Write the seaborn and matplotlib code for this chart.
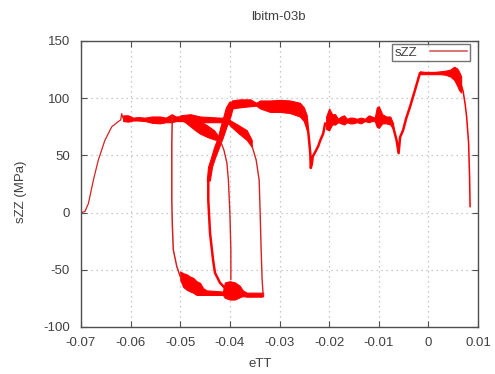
import numpy as np
import pandas as pd
import seaborn as sns
import matplotlib
matplotlib.use("Agg")
import matplotlib.pyplot as plt

# ---- axis ticks ----
x_ticks = [-0.07, -0.06, -0.05, -0.04, -0.03, -0.02, -0.01, 0.0, 0.01]
x_tick_labels = ["-0.07", "-0.06", "-0.05", "-0.04", "-0.03", "-0.02", "-0.01", "0", "0.01"]
y_ticks = [-100, -50, 0, 50, 100, 150]
y_tick_labels = ["-100", "-50", "0", "50", "100", "150"]

# ---- thin path segments (eTT, sZZ) ----
load_e = [-0.0699, -0.0692, -0.0685, -0.0675, -0.0665, -0.0652, -0.0638, -0.0625, -0.0620, -0.0618, -0.0615]
load_s = [0, 1, 8, 28.5, 46, 63, 75, 79.5, 81, 86.5, 82]

drop1_e = [-0.0516, -0.0517, -0.0517, -0.0516, -0.0514, -0.0507, -0.0500]
drop1_s = [84, 60, 11, -10, -32.5, -47, -56]

drop2_e = [-0.04435, -0.04435, -0.0440, -0.0434, -0.0430, -0.0420, -0.04065]
drop2_s = [30, 11, -17.7, -41, -52.6, -61.3, -67.5]

drop3_e = [-0.0420, -0.0412, -0.0406, -0.0403, -0.0400, -0.0398, -0.0398]
drop3_s = [63.5, 54.7, 43.4, 28.5, 0, -32.5, -58.7]

drop4_e = [-0.0356, -0.0347, -0.0341, -0.0339, -0.0337, -0.0335, -0.0333]
drop4_s = [59, 46, 28.5, 0, -32.5, -58.7, -71.8]

dip_e = [-0.0245, -0.0241, -0.0238, -0.0237, -0.0235, -0.0233, -0.0228, -0.0222, -0.0218, -0.0212, -0.0208]
dip_s = [82, 66, 52, 39, 42, 49, 53, 58, 63, 69, 78]

rise_r_e = [-0.0071, -0.0064, -0.0060, -0.0057, -0.0051, -0.0045, -0.0037, -0.0027, -0.0017]
rise_r_s = [75, 63, 52, 66, 72, 82, 92.5, 107, 122]

end_e = [0.0066, 0.0070, 0.0074, 0.0077, 0.0081, 0.0083, 0.0084]
end_s = [112, 106, 95, 84, 61, 31, 5]

# ---- oscillating bands: eTT with lower / upper sZZ envelope ----
plat_e = [-0.0615, -0.0605, -0.0595, -0.0585, -0.0571, -0.0557, -0.0541, -0.0529, -0.0517, -0.0509, -0.0500]
plat_lo = [80, 79.5, 80.5, 80.5, 80, 78.5, 78, 79, 79, 80, 80]
plat_hi = [85, 85, 83, 83.5, 83, 84, 84, 83, 86, 84, 84]

flat_e = [-0.0500, -0.0480, -0.0460, -0.0440, -0.0420, -0.0404]
flat_lo = [80, 80, 79, 79, 79, 79]
flat_hi = [85, 86, 84, 83.5, 83, 83]

lens1_e = [-0.0505, -0.0490, -0.0470, -0.0460, -0.0445, -0.0432, -0.0420]
lens1_lo = [82, 79, 72, 69, 66, 64, 63]
lens1_hi = [84, 83.5, 81.5, 80, 76, 72, 65]

top_e = [-0.0396, -0.0380, -0.0359, -0.0347, -0.0339, -0.0319, -0.0299, -0.0279, -0.0259, -0.0251, -0.0245]
top_lo = [91, 92, 93, 93.5, 91, 88, 88, 87, 84, 80, 72]
top_hi = [98, 99, 99, 96, 98, 98, 98.5, 98, 96, 92, 85]

lens2_e = [-0.0406, -0.0397, -0.0383, -0.0366, -0.0356]
lens2_lo = [79, 75, 69.5, 63.5, 57.5]
lens2_hi = [83, 80, 76.5, 72, 63.5]

comp_e = [-0.0500, -0.0494, -0.0487, -0.0480, -0.0474, -0.0467, -0.0460, -0.0454, -0.0447, -0.0430,
          -0.0414, -0.0410, -0.0400, -0.0390, -0.0380, -0.0374, -0.0366, -0.0349, -0.0336, -0.0333]
comp_lo = [-58.7, -65, -67.5, -69, -70, -72, -72, -72, -72, -72,
           -72, -74.5, -76, -76, -74, -73, -73.5, -73.5, -73.5, -73]
comp_hi = [-51.5, -53, -54, -56, -57, -60, -61.5, -66, -68, -68.5,
           -69, -61, -60, -61, -64, -68, -70, -70, -70, -70]

mid_e = [-0.0206, -0.0200, -0.0194, -0.0188, -0.0182, -0.0176, -0.0170, -0.0164, -0.0158, -0.0152, -0.0144,
         -0.0136, -0.0128, -0.0120, -0.0114, -0.0108, -0.0104, -0.0100, -0.0093, -0.0085, -0.0077, -0.0071]
mid_lo = [73, 72, 77, 77, 79, 78, 77, 79, 78, 78, 79, 78, 80, 79, 80, 80, 75, 74, 78, 78, 77, 73]
mid_hi = [84, 91, 86, 86, 82, 84, 85, 82, 83, 83, 82, 83, 82, 85, 84, 83, 92, 93, 86, 84, 84, 78]

peak_e = [-0.0017, -0.0007, 0.0003, 0.0013, 0.0024, 0.0034, 0.0044, 0.0052, 0.0058, 0.0062, 0.0066]
peak_lo = [121, 121, 121, 121, 121, 120.5, 119, 116, 111, 107, 105]
peak_hi = [123.5, 123, 123, 123, 123.5, 124, 125, 127.5, 126, 123, 119]

# ---- steep band: sZZ with left / right eTT envelope ----
climb_s = [28, 40, 48, 57, 66, 75, 84, 92, 97]
climb_left = [-0.04465, -0.0444, -0.0438, -0.0432, -0.0424, -0.0419, -0.0413, -0.0408, -0.0401]
climb_right = [-0.04405, -0.0436, -0.0430, -0.0422, -0.0414, -0.0407, -0.0399, -0.0394, -0.0391]

RED = "#ff0000"
THIN = "#d82020"
TXT = "#404040"

sns.set_theme(style="white")
plt.rcParams["font.family"] = ["Liberation Sans", "DejaVu Sans"]
plt.rcParams["axes.unicode_minus"] = False

fig, ax = plt.subplots(figsize=(4.95, 3.74), dpi=100)
fig.subplots_adjust(left=0.1636, right=0.9657, top=0.8904, bottom=0.1257)

lines = [
    (load_e, load_s, 0.9, THIN),
    (drop1_e, drop1_s, 1.1, THIN),
    (drop2_e, drop2_s, 1.8, RED),
    (drop3_e, drop3_s, 1.0, THIN),
    (drop4_e, drop4_s, 1.0, THIN),
    (dip_e, dip_s, 1.8, RED),
    (rise_r_e, rise_r_s, 1.8, RED),
    (end_e, end_s, 1.1, RED),
]
for i, (xe, ys, lw, col) in enumerate(lines):
    df = pd.DataFrame({"eTT": xe, "sZZ": ys})
    sns.lineplot(data=df, x="eTT", y="sZZ", sort=False, estimator=None, ax=ax,
                 color=col, lw=lw, label="sZZ" if i == 0 else None, legend=False)

bands = [
    (plat_e, plat_lo, plat_hi),
    (flat_e, flat_lo, flat_hi),
    (lens1_e, lens1_lo, lens1_hi),
    (top_e, top_lo, top_hi),
    (lens2_e, lens2_lo, lens2_hi),
    (comp_e, comp_lo, comp_hi),
    (mid_e, mid_lo, mid_hi),
    (peak_e, peak_lo, peak_hi),
]
for xe, lo, hi in bands:
    ax.fill_between(xe, lo, hi, color=RED, lw=0.8, edgecolor=RED)
ax.fill_betweenx(climb_s, climb_left, climb_right, color=RED, lw=0.8, edgecolor=RED)

ax.set_xlim(-0.07, 0.01)
ax.set_ylim(-100, 150)
ax.set_xticks(x_ticks)
ax.set_xticklabels(x_tick_labels)
ax.set_yticks(y_ticks)
ax.set_yticklabels(y_tick_labels)
ax.set_xlabel("")
ax.set_ylabel("")

ax.grid(True, color="#b8b8b8", linestyle=(0, (1, 3)), lw=0.9)
ax.set_axisbelow(True)
for sp in ax.spines.values():
    sp.set_visible(True)
    sp.set_color("#505050")
    sp.set_linewidth(1.0)
ax.tick_params(axis="both", which="major", direction="in", length=4, width=0.8,
               color="#505050", labelsize=9.5, labelcolor=TXT,
               top=True, right=True, bottom=True, left=True)
ax.tick_params(axis="x", pad=7)
ax.tick_params(axis="y", pad=8)

fig.text(0.562, 0.955, "lbitm-03b", ha="center", va="center", fontsize=9.5, color=TXT)
fig.text(0.525, 0.027, "eTT", ha="center", va="center", fontsize=9.5, color=TXT)
fig.text(0.042, 0.487, "sZZ (MPa)", ha="center", va="center", rotation=90, fontsize=9.5, color=TXT)

handles, labels = ax.get_legend_handles_labels()
leg = ax.legend(handles[:1], labels[:1], loc="upper right", bbox_to_anchor=(0.98, 0.99),
                borderaxespad=0, markerfirst=False, fancybox=False, frameon=True,
                fontsize=9.5, handlelength=2.8, handletextpad=1.0, borderpad=0.2)
leg.get_frame().set_edgecolor("#505050")
leg.get_frame().set_linewidth(1.0)
for t in leg.get_texts():
    t.set_color(TXT)
for ln in leg.get_lines():
    ln.set_color("#d87878")
    ln.set_linewidth(1.5)

fig.savefig("out.png", dpi=100)
